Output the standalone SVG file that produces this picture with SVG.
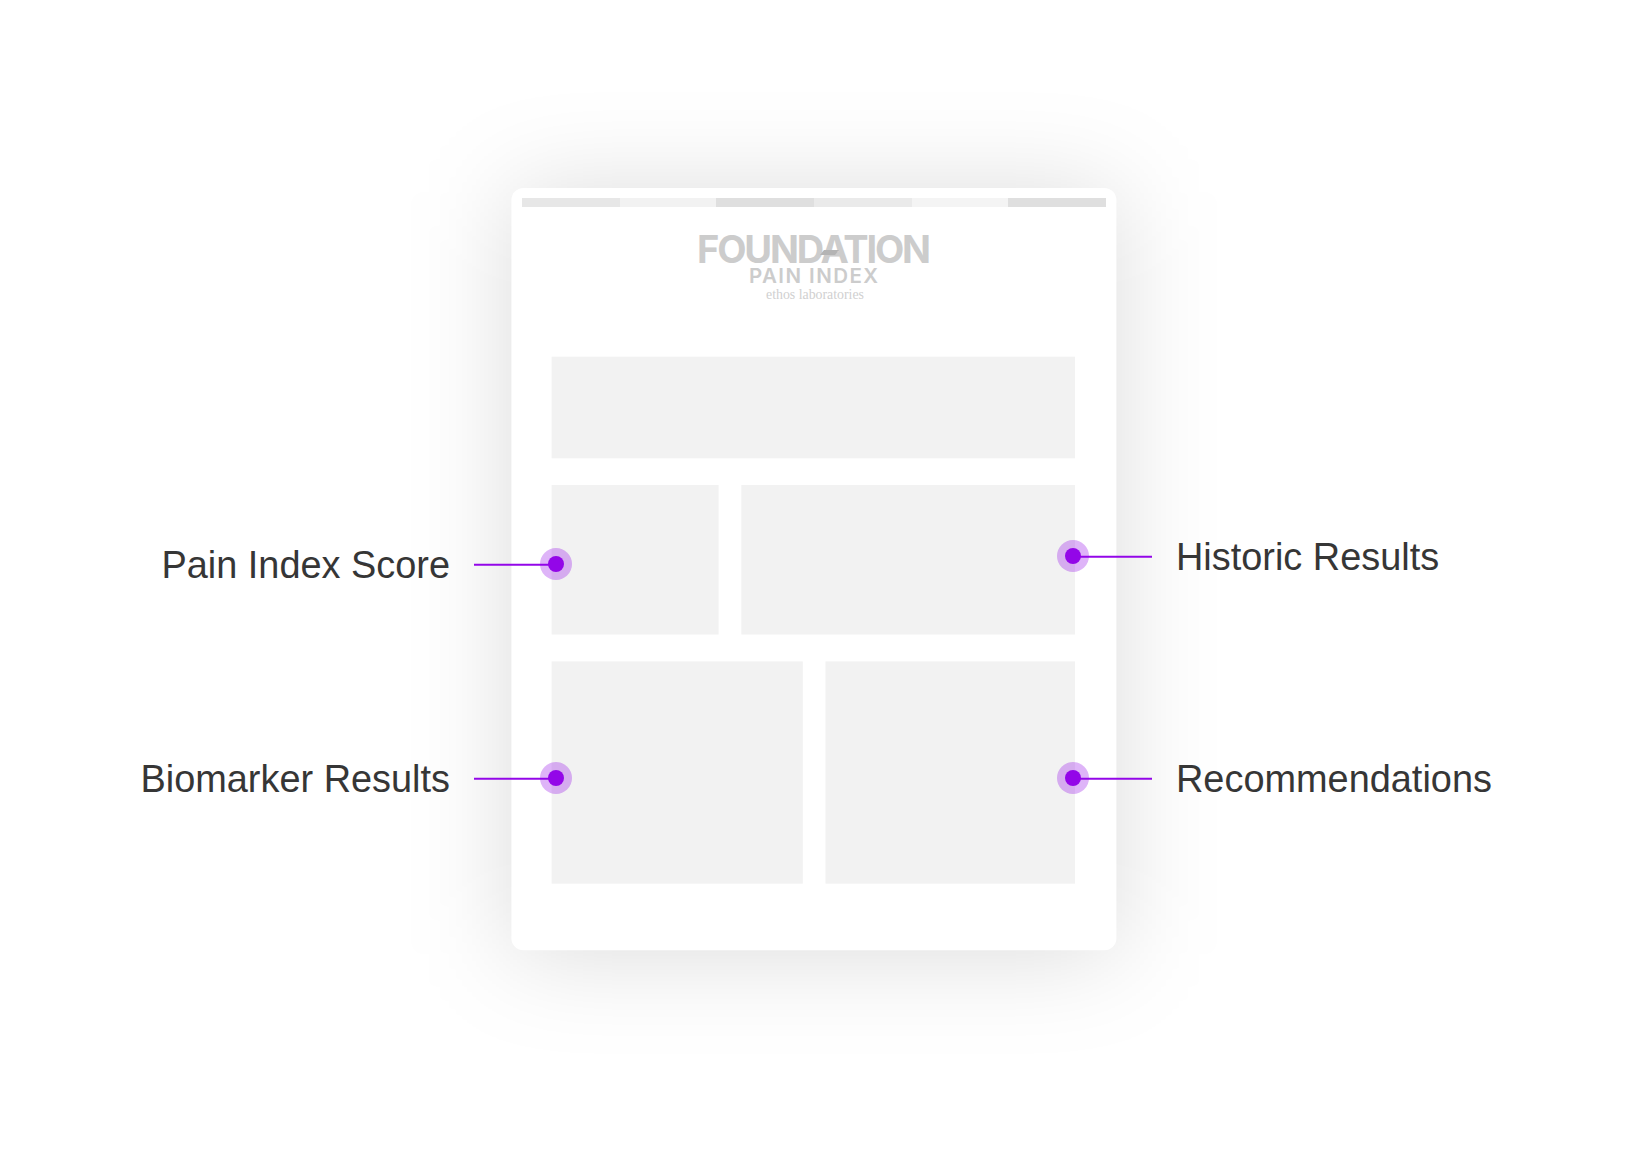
<svg xmlns="http://www.w3.org/2000/svg" width="1628" height="1172" viewBox="0 0 1628 1172">
<style>
.block{fill:#f2f2f2}
.label{font-family:"Liberation Sans",Arial,sans-serif;font-size:37.9px;fill:#363636}
.line{stroke:#9306e8;stroke-width:2;fill:none}
.halo{fill:#9306e8;fill-opacity:.3}
.dot{fill:#9306e8}
.logo{font-family:Inter,"Liberation Sans",Arial,sans-serif;fill:#ccc}
</style>
<defs>
<filter id="soft" filterUnits="userSpaceOnUse" x="100" y="-200" width="1430" height="1550"><feGaussianBlur stdDeviation="50"/></filter>
</defs>
<rect width="1628" height="1172" fill="#fff"/>
<g id="page">
<rect x="511.5" y="192" width="605" height="762" rx="12" fill="#000" fill-opacity=".14" filter="url(#soft)"/>
<rect x="511.4" y="188" width="605" height="762.3" rx="12" fill="#fff"/>
<g id="topbar">
<rect x="522" y="198" width="98" height="9" fill="#e7e7e7"/>
<rect x="620" y="198" width="96" height="9" fill="#f2f2f2"/>
<rect x="716" y="198" width="98" height="9" fill="#dfdfdf"/>
<rect x="814" y="198" width="98" height="9" fill="#eaeaea"/>
<rect x="912" y="198" width="96" height="9" fill="#f4f4f4"/>
<rect x="1008" y="198" width="98" height="9" fill="#dfdfdf"/>
</g>
<g id="logo">
<text class="logo" x="697" y="263" font-size="38" font-weight="700" textLength="234" lengthAdjust="spacing">FOUNDATION</text>
<path d="M820 255 L824 250 L839 250 L835 255Z" fill="#b4b4b4"/>
<text class="logo" x="749" y="283" font-size="20.5" font-weight="600" textLength="129" lengthAdjust="spacing">PAIN INDEX</text>
<text x="766" y="299" font-size="14" font-family="'Liberation Serif','Times New Roman',serif" fill="#d0d0d0" textLength="98" lengthAdjust="spacingAndGlyphs">ethos laboratories</text>
</g>
<rect class="block" x="551.6" y="356.7" width="523.4" height="101.6"/>
<rect class="block" x="551.6" y="485" width="167" height="149.5"/>
<rect class="block" x="741.3" y="485" width="333.7" height="149.5"/>
<rect class="block" x="551.6" y="661.4" width="251.2" height="222.3"/>
<rect class="block" x="825.5" y="661.4" width="249.5" height="222.3"/>
</g>
<g id="connectors">
<line class="line" x1="474" y1="564.7" x2="556" y2="564.7"/>
<line class="line" x1="1073" y1="556.7" x2="1152" y2="556.7"/>
<line class="line" x1="474" y1="778.7" x2="556" y2="778.7"/>
<line class="line" x1="1073" y1="778.7" x2="1152" y2="778.7"/>
</g>
<g id="pain-index-score">
<circle class="halo" cx="556" cy="564" r="16"/><circle class="dot" cx="556" cy="564" r="8"/>
<text class="label" x="450" y="578" text-anchor="end">Pain Index Score</text>
</g>
<g id="historic-results">
<circle class="halo" cx="1073" cy="556" r="16"/><circle class="dot" cx="1073" cy="556" r="8"/>
<text class="label" x="1176" y="570">Historic Results</text>
</g>
<g id="biomarker-results">
<circle class="halo" cx="556" cy="778" r="16"/><circle class="dot" cx="556" cy="778" r="8"/>
<text class="label" x="450" y="792" text-anchor="end">Biomarker Results</text>
</g>
<g id="recommendations">
<circle class="halo" cx="1073" cy="778" r="16"/><circle class="dot" cx="1073" cy="778" r="8"/>
<text class="label" x="1176" y="792">Recommendations</text>
</g>
</svg>
